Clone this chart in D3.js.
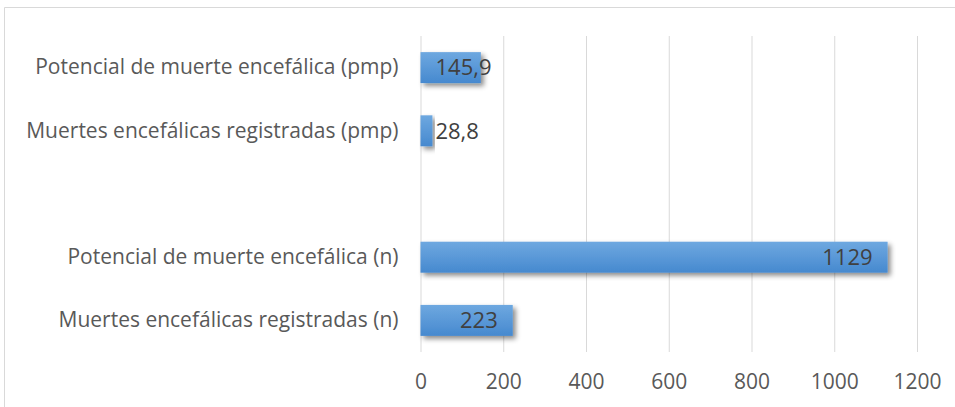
<!DOCTYPE html>
<html><head><meta charset="utf-8">
<script src="https://cdn.jsdelivr.net/npm/d3@7"></script>
<style>
html,body{margin:0;padding:0;background:#fff;}
svg{display:block;font-family:"Open Sans", sans-serif;}
</style></head>
<body><svg id="c" width="955" height="407"></svg>
<script>
const categories = ["Potencial de muerte encefálica (pmp)", "Muertes encefálicas registradas (pmp)", "", "Potencial de muerte encefálica (n)", "Muertes encefálicas registradas (n)"];
const values = [145.9, 28.8, null, 1129, 223];
const tickValues = [0, 200, 400, 600, 800, 1000, 1200];

const FONT = "\"Open Sans\", sans-serif";
const FS = "21px";
const svg = d3.select("#c");
const W = 955, H = 407;
const m = {left: 420.5, right: 38, top: 36, bottom: 55};

// frame
svg.append("line").attr("x1",4.5).attr("x2",W).attr("y1",7.5).attr("y2",7.5).attr("stroke","#d9d9d9");
svg.append("line").attr("x1",4.5).attr("x2",4.5).attr("y1",7.5).attr("y2",H).attr("stroke","#d9d9d9");

const x = d3.scaleLinear().domain([0,1200]).range([m.left, 917]);
const keys = categories.map((c,i)=>i);
const y = d3.scaleBand().domain(keys).range([m.top, H - m.bottom]).paddingInner(0.51).paddingOuter(0.255);

const defs = svg.append("defs");
const g = defs.append("linearGradient").attr("id","bg").attr("x1",0).attr("x2",0).attr("y1",0).attr("y2",1);
g.append("stop").attr("offset","0%").attr("stop-color","#6ea8e0");
g.append("stop").attr("offset","100%").attr("stop-color","#4689cf");
const f = defs.append("filter").attr("id","sh").attr("x","-10%").attr("y","-30%").attr("width","130%").attr("height","180%");
f.append("feDropShadow").attr("dx",3).attr("dy",3).attr("stdDeviation",2.5).attr("flood-color","#000").attr("flood-opacity",0.45);

// gridlines + x tick labels
const xAxis = d3.axisBottom(x).tickValues(tickValues).tickSize(-(H - m.bottom - m.top)).tickSizeOuter(0).tickPadding(30).tickFormat(d3.format("d"));
const ax = svg.append("g").attr("transform",`translate(0,${H - m.bottom})`).call(xAxis);
ax.select(".domain").remove();
ax.selectAll(".tick line").attr("stroke","#d9d9d9").attr("stroke-width",1);
ax.selectAll(".tick text").attr("fill","#595959").attr("font-size",FS).attr("font-family",FONT).attr("dy","0.32em");

// category labels
const yAxis = d3.axisLeft(y).tickSize(0).tickPadding(22).tickFormat(i => categories[i]);
const ay = svg.append("g").attr("transform",`translate(${m.left},0)`).call(yAxis);
ay.select(".domain").remove();
ay.selectAll(".tick text").attr("fill","#595959").attr("font-size",FS).attr("font-family",FONT);

const loc = d3.formatLocale({decimal:",", thousands:".", grouping:[3], currency:["",""]});
const fmt = v => Number.isInteger(v) ? String(v) : loc.format(".1f")(v);

const data = keys.filter(i => values[i] != null).map(i => ({i, v: values[i]}));
svg.append("g").selectAll("rect").data(data).join("rect")
  .attr("x", x(0)).attr("y", d => y(d.i)).attr("width", d => x(d.v) - x(0)).attr("height", y.bandwidth())
  .attr("fill","url(#bg)").attr("filter","url(#sh)");

const lab = svg.append("g").selectAll("text").data(data).join("text")
  .attr("y", d => y(d.i) + y.bandwidth()/2).attr("dy","0.35em")
  .attr("fill","#404040").attr("font-size","22px").attr("font-family",FONT)
  .text(d => fmt(d.v));
lab.each(function(d){
  const w = this.getComputedTextLength();
  const bw = x(d.v) - x(0);
  let sx;
  if (bw >= w + 30) sx = x(d.v) - 15 - w;
  else if (bw > 40) sx = x(0) + 15;
  else sx = x(d.v) + 3;
  d3.select(this).attr("x", sx);
});
</script></body></html>
